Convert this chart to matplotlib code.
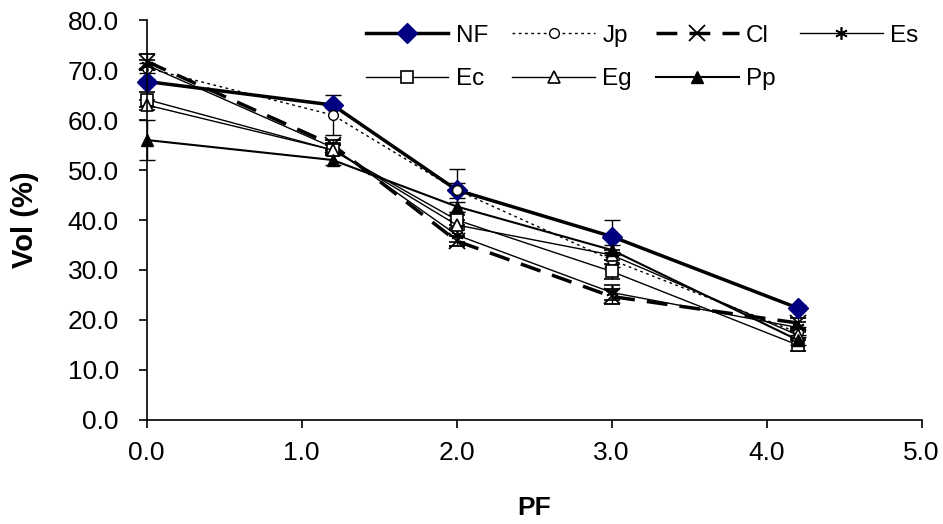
import matplotlib.pyplot as plt
from matplotlib.lines import Line2D

plt.rcParams['font.family'] = ['Liberation Sans', 'DejaVu Sans']

pf = [0.0, 1.2, 2.0, 3.0, 4.2]

nf = [67.7, 63.0, 46.0, 36.7, 22.4]
jp = [70.4, 61.0, 46.0, 32.0, 17.5]
cl = [71.7, 55.0, 35.8, 24.7, 19.4]
es = [71.0, 54.5, 37.0, 25.5, 18.5]
ec = [64.1, 54.0, 40.0, 29.7, 15.0]
eg = [63.0, 54.0, 39.0, 33.0, 17.0]
pp = [56.0, 52.0, 42.7, 34.0, 16.0]

nf_err = [0.5, 0.5, 4.3, 3.3, 0.5]
jp_err = [1.0, 4.0, 1.5, 1.5, 1.0]
cl_err = [1.5, 1.0, 1.0, 1.5, 1.0]
es_err = [1.0, 1.0, 1.5, 1.5, 1.0]
ec_err = [1.5, 1.0, 1.0, 1.5, 1.3]
eg_err = [1.0, 1.0, 1.0, 1.0, 1.0]
pp_err = [4.0, 1.0, 1.0, 1.0, 1.0]

fig = plt.figure(figsize=(9.43, 5.24), dpi=100)
ax = fig.add_axes([0.1556, 0.1985, 0.8218, 0.7633])

styles = [
    ('NF', nf, nf_err, dict(color='black', lw=2.5, ls='-', marker='D', ms=10,
                            mfc='#000080', mec='#000080')),
    ('Jp', jp, jp_err, dict(color='black', lw=1.0, ls=(0, (2, 2.5)), marker='o', ms=7,
                            mfc='white', mec='black')),
    ('Cl', cl, cl_err, dict(color='black', lw=2.5, ls=(0, (6, 3.5)), marker='x', ms=11,
                            mew=1.3, mec='black')),
    ('Es', es, es_err, dict(color='black', lw=1.0, ls='-', marker=(6, 2, 0), ms=9,
                            mew=1.2, mec='black')),
    ('Ec', ec, ec_err, dict(color='black', lw=1.0, ls='-', marker='s', ms=8,
                            mfc='white', mec='black', mew=1.2)),
    ('Eg', eg, eg_err, dict(color='black', lw=1.0, ls='-', marker='^', ms=8,
                            mfc='white', mec='black', mew=1.2)),
    ('Pp', pp, pp_err, dict(color='black', lw=1.5, ls='-', marker='^', ms=9,
                            mfc='black', mec='black')),
]

handles = {}
for name, vals, err, st in styles:
    ax.errorbar(pf, vals, yerr=err, ecolor='black', elinewidth=1.0, capsize=6,
                capthick=1.0, clip_on=False, **st)
    handles[name] = Line2D([], [], **st)

# legend in two rows: NF Jp Cl Es / Ec Eg Pp
order = ['NF', 'Ec', 'Jp', 'Eg', 'Cl', 'Pp', 'Es']
ax.legend([handles[k] for k in order], order, ncol=4, frameon=False,
          loc='upper left', bbox_to_anchor=(0.27, 1.012), fontsize=17.5,
          handlelength=3.4, columnspacing=1.0, handletextpad=0.3,
          labelspacing=0.87, borderaxespad=0)

ax.set_xlim(0, 5)
ax.set_ylim(0, 80)
ax.set_xticks([0, 1, 2, 3, 4, 5])
ax.set_yticks(range(0, 81, 10))
ax.set_xticklabels(['0.0', '1.0', '2.0', '3.0', '4.0', '5.0'])
ax.set_yticklabels(['%.1f' % v for v in range(0, 81, 10)])
ax.tick_params(labelsize=19, direction='out', length=6, width=1.2)
ax.tick_params(axis='y', pad=14)
ax.tick_params(axis='x', pad=9)
for s in ['top', 'right']:
    ax.spines[s].set_visible(False)
for s in ['left', 'bottom']:
    ax.spines[s].set_linewidth(1.2)

ax.set_xlabel('PF', fontsize=19, fontweight='bold')
ax.set_ylabel('Vol (%)', fontsize=21, fontweight='bold')
ax.xaxis.set_label_coords(0.5, -0.19)
ax.yaxis.set_label_coords(-0.139, 0.5)

fig.savefig('out.png', dpi=100)
